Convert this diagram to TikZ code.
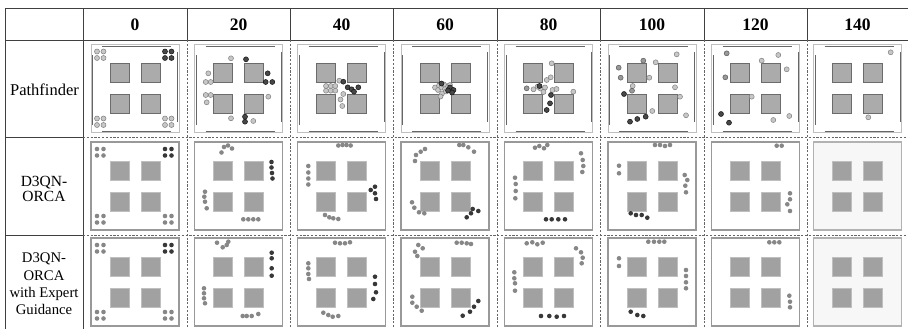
\documentclass[tikz,border=0pt]{standalone}
\usepackage{fontspec}
\setmainfont{Liberation Serif}
\tikzset{
 grid/.style={draw=black!75, line width=0.7pt},
 dgrid/.style={draw=black!60, line width=0.6pt, dash pattern=on 2.2pt off 1.6pt},
 pfouter/.style={draw=black!25, line width=0.6pt, fill=white},
 pfwall/.style={draw=black!60, line width=0.9pt},
 pfobs/.style={fill=black!33, draw=black!58, line width=0.5pt},
 dqouter/.style={draw=black!40, line width=1.1pt},
 dqobs/.style={fill=black!37, draw=black!25, line width=0.4pt},
 pl/.style={fill=black!22, draw=black!50, line width=0.5pt},
 pm/.style={fill=black!40, draw=black!65, line width=0.5pt},
 pd/.style={fill=black!72, draw=black!92, line width=0.5pt},
 dg/.style={fill=black!47},
 dk/.style={fill=black!78},
 hd/.style={font=\bfseries\fontsize{17.5}{20}\selectfont, inner sep=0pt},
 lab/.style={align=center, inner sep=0pt},
}
\newcommand\pfpanel{%
 \path[pfouter] (-44,-44) rectangle (44,44);
 \draw[pfwall] (-33,-42.5) -- (36,-42.5);
 \draw[pfwall] (-33,42.5) -- (36,42.5);
 \draw[pfwall] (-42.5,-33) -- (-42.5,36);
 \draw[pfwall] (42.5,-36) -- (42.5,33);
 \foreach \sx in {-15.5,15.5}{\foreach \sy in {-15.5,15.5}{\path[pfobs] (\sx-9.5,\sy-9.5) rectangle (\sx+9.5,\sy+9.5);}}%
}
\newcommand\dqpanel[2]{%
 \path[dqouter,fill=#1,draw=#2] (-44,-44) rectangle (44,44);
 \foreach \sx in {-15.5,15.5}{\foreach \sy in {-15.5,15.5}{\path[dqobs] (\sx-9.5,\sy-9.5) rectangle (\sx+9.5,\sy+9.5);}}%
}
\newcommand\pag[2]{\foreach \q in {#2}{\path[#1] \q circle[radius=2.5pt];}}
\newcommand\dqag[2]{\foreach \q in {#2}{\path[#1] \q circle[radius=2.3pt];}}
\newcommand\startgrid[3]{%
 #1{#2}{(-38,-37),(-31.5,-37),(-38,-30.5),(-31.5,-30.5),(-38,30),(-31.5,30),(-38,36.5),(-31.5,36.5),(30,30),(36.5,30),(30,36.5),(36.5,36.5)}%
 #1{#3}{(30,-37),(36.5,-37),(30,-30.5),(36.5,-30.5)}%
}
\begin{document}
\begin{tikzpicture}[x=1pt,y=-1pt]
\useasboundingbox (0,0) rectangle (908,329);
\fill[white] (0,0) rectangle (908,329);
% ---------------- table lines
\draw[grid] (5,8) -- (908,8);
\draw[grid] (5,40) -- (908,40);
\draw[grid] (5,8) -- (5,329);
\draw[grid] (83,8) -- (83,329);
\draw[grid] (5,137) -- (83,137);
\draw[grid] (5,235) -- (83,235);
\foreach \x in {187,290,393,497,600,704,807}{\draw[grid] (\x,8) -- (\x,40); \draw[dgrid] (\x,40) -- (\x,329);}
\draw[dgrid] (83,137) -- (908,137);
\draw[dgrid] (83,235) -- (908,235);
% ---------------- header
\node[hd] (h0) at (135,25) {0};
\node[hd] (h1) at (238.5,25) {20};
\node[hd] (h2) at (341.5,25) {40};
\node[hd] (h3) at (445,25) {60};
\node[hd] (h4) at (548.5,25) {80};
\node[hd] (h5) at (652,25) {100};
\node[hd] (h6) at (755.5,25) {120};
\node[hd] (h7) at (857.5,25) {140};
% ---------------- row labels
\node[lab, font=\fontsize{16.5}{18}\selectfont] (lp) at (44.5,89.5) {Pathfinder};
\node[lab, font=\fontsize{15.5}{15.8}\selectfont] (ld) at (44,189) {D3QN-\\ORCA};
\node[lab, font=\fontsize{14.7}{17.3}\selectfont] (le) at (44,284) {D3QN-\\ORCA\\with Expert\\Guidance};
% ================= Pathfinder row
\begin{scope}[shift={(135,88.5)}]\pfpanel
 \startgrid{\pag}{pl}{pd}
\end{scope}
\begin{scope}[shift={(238.5,88.5)}]\pfpanel
 \pag{pl}{(-7.5,-30.2),(-30.2,-15.2),(-32.8,-6.5),(-27.8,-6.5),(-32.8,6.5),(-27.8,6.5),(-31.8,13.8),(29.8,8.2),(-7.5,29.8),(14.8,32.5)}
 \pag{pd}{(7.5,-29.2),(29.2,-15.2),(27.2,-6.5),(33.8,-6.5),(6.5,28.2),(6.5,33.2)}
\end{scope}
\begin{scope}[shift={(341.5,88.5)}]\pfpanel
 \pag{pl}{(-15.5,-2.5),(-10.8,-2.5),(-6.2,-2.5),(-15.5,2.2),(-10.8,2.2),(-6.2,2.2),(-2.2,-7.8),(1.8,5.5),(-1,11),(0.8,17.5)}
 \pag{pd}{(1.8,-6.8),(6.2,-1.2),(10.2,0.8),(16.8,-1.2),(12.5,3.2)}
\end{scope}
\begin{scope}[shift={(445,88.5)}]\pfpanel
 \pag{pl}{(-10,-1),(-6,-3),(-7,1.5),(-3.5,-1),(0,0.5),(-3,5),(-4.5,8),(3,-2.5),(1,3),(5,-3.5),(-1,-4)}
 \pag{pd}{(-3.5,-5),(5,-1),(8.5,1.5),(7,4),(3,2)}
\end{scope}
\begin{scope}[shift={(548.5,88.5)}]\pfpanel
 \pag{pl}{(3.2,-25.2),(2.2,-11.2),(-1.8,-8.5),(-15,0.8),(-11,-1.8),(-8,0),(-3.5,-1),(-5,3.5),(4,1.5),(8,0.5),(24.8,3.2)}
 \pag{pm}{(-21.8,-0.2)}
 \pag{pd}{(2.5,6.5),(1.5,14.8),(-1.8,21.5),(-9,-2.5)}
\end{scope}
\begin{scope}[shift={(652,88.5)}]\pfpanel
 \pag{pl}{(24.7,-34.2),(3.7,-26.2),(-2.7,-10.8),(-19.3,-2.5),(23,-1.2),(28,8.2),(0.3,22.5),(34,26.8)}
 \pag{pm}{(-8.7,-27.8),(-33.3,-20.8),(-31.3,-10.8),(-20,2.2)}
 \pag{pd}{(-28,5.5),(-22,33.2),(-14.7,30.5),(-6.3,28.2)}
\end{scope}
\begin{scope}[shift={(755.5,88.5)}]\pfpanel
 \pag{pm}{(-28.8,-35.2),(-30.2,-11.2)}
 \pag{pl}{(22.8,-33.5),(6.2,-27.8),(31.2,-19.2),(-3.8,8.2),(17.8,31.5),(33.8,27.5)}
 \pag{pd}{(-34.5,25.5),(-26.5,34.2)}
\end{scope}
\begin{scope}[shift={(857.5,88.5)}]\pfpanel
 \pag{pl}{(33.2,-36.2),(10.8,28.8)}
\end{scope}
% ================= D3QN-ORCA row
\begin{scope}[shift={(135,186)}]\dqpanel{white}{black!40}
 \startgrid{\dqag}{dg}{dk}
\end{scope}
\begin{scope}[shift={(238.5,186)}]\dqpanel{white}{black!40}
 \dqag{dg}{(-17,-33.5),(-14.5,-39),(-10.5,-40.5),(-6.5,-37.5),(-33.5,5.7),(-34.2,10.7),(-33.5,15.7),(-31.8,22.3),(4.8,33.3),(9.8,33.3),(14.8,33.3),(19.8,33.3)}
 \dqag{dk}{(33,-24),(33,-18.5),(33.5,-13),(34,-7.5)}
\end{scope}
\begin{scope}[shift={(341.5,186)}]\dqpanel{white}{black!40}
 \dqag{dg}{(-3.2,-40.5),(1,-41),(5,-41),(9.2,-40.5),(-33.2,-20),(-33.2,-13.5),(-33.2,-7.5),(-33.2,-1.5),(-16.5,29),(-12.2,31.3),(-8.2,32.3),(-3.2,33)}
 \dqag{dk}{(29.2,4),(33.5,0.7),(33.5,7.3),(34.5,13)}
\end{scope}
\begin{scope}[shift={(445,186)}]\dqpanel{white}{black!40}
 \dqag{dg}{(-30,-25),(-29,-31),(-24.3,-34.3),(-20,-37),(14.3,-41),(18.3,-41),(23.3,-38.7),(29,-34.3),(-33,16.3),(-30.7,21.7),(-26,26.3),(-20.7,27.3)}
 \dqag{dk}{(21.7,31.3),(26,27.3),(27.7,23),(33.3,25)}
\end{scope}
\begin{scope}[shift={(548.5,186)}]\dqpanel{white}{black!40}
 \dqag{dg}{(-13.5,-38.3),(-9.2,-40),(-4.5,-37.7),(-1.2,-41),(32.5,-32.7),(34.2,-26),(34.8,-20),(33.8,-14),(-33.5,-8.3),(-32.8,-2),(-32.8,5),(-33.2,12.3)}
 \dqag{dk}{(-2.5,33.3),(3.2,33.3),(9.8,33.3),(16.5,33.3)}
\end{scope}
\begin{scope}[shift={(652,186)}]\dqpanel{white}{black!40}
 \dqag{dg}{(3,-41),(8,-41),(13,-40),(18,-41),(-33,-20.3),(-33,-12.7),(32.7,-11),(35.3,-6),(33.3,-0.3),(34,6.3)}
 \dqag{dk}{(-21.3,27.3),(-16,29),(-10.3,29),(-4.7,31.7)}
\end{scope}
\begin{scope}[shift={(755.5,186)}]\dqpanel{white}{black!40}
 \dqag{dg}{(21.2,-40.3),(26.2,-40.3),(34.5,7.3),(34.5,13.3),(31.8,18.3),(34.5,25)}
\end{scope}
\begin{scope}[shift={(857.5,186)}]\dqpanel{black!3}{black!30}
\end{scope}
% ================= D3QN-ORCA with Expert Guidance row
\begin{scope}[shift={(135,282)}]\dqpanel{white}{black!40}
 \startgrid{\dqag}{dg}{dk}
\end{scope}
\begin{scope}[shift={(238.5,282)}]\dqpanel{white}{black!40}
 \dqag{dg}{(-21.5,-39.3),(-15.8,-34.7),(-11.8,-37),(-10.2,-40.3),(-34.5,6.3),(-34.5,11.3),(-34.5,16.3),(-33.5,21.3),(4.2,34),(8.2,34),(13.2,34),(19.8,32)}
 \dqag{dk}{(33.2,-29.3),(33.2,-23.7),(33.2,-13.7),(33.2,-6.3)}
\end{scope}
\begin{scope}[shift={(341.5,282)}]\dqpanel{white}{black!40}
 \dqag{dg}{(-6.5,-39.3),(-1.5,-38.7),(3.5,-38.7),(8.5,-39.7),(-33.2,-18.7),(-33.2,-13.7),(-33.2,-8),(-32.5,-3),(-18.2,30.7),(-13.2,33),(-8.8,34.7),(-3.2,34)}
 \dqag{dk}{(33.5,-5.3),(33.5,2),(34.5,10.3),(31.8,17)}
\end{scope}
\begin{scope}[shift={(445,282)}]\dqpanel{white}{black!40}
 \dqag{dg}{(-30,-30.3),(-27.7,-26),(-26.7,-37),(-22.3,-33.7),(11.7,-39.3),(16.7,-39.3),(21.7,-38.7),(26,-38),(-32.7,14.7),(-32.7,20.7),(-28.3,24.7),(-23.3,28.7)}
 \dqag{dk}{(17.7,33.7),(25,29.7),(29,24.7),(33.3,19)}
\end{scope}
\begin{scope}[shift={(548.5,282)}]\dqpanel{white}{black!40}
 \dqag{dg}{(-21.8,-38.7),(-16.2,-39.7),(-11.2,-37.7),(-5.8,-39.3),(27.5,-33.7),(32.5,-29.7),(34.2,-24.3),(33.2,-18.7),(-34.2,-9.7),(-34.2,-3.7),(-33.5,1.3),(-33.5,8.7)}
 \dqag{dk}{(-7.5,34),(0.8,34),(8.2,34.7),(15.5,34)}
\end{scope}
\begin{scope}[shift={(652,282)}]\dqpanel{white}{black!40}
 \dqag{dg}{(-3.7,-40.3),(2,-40.3),(7.3,-40.3),(12.3,-40.3),(-33,-23.7),(-33,-16),(34,-12),(34,-6),(34,0.3),(34,6.3)}
 \dqag{dk}{(-21.3,29.7),(-14.7,33),(-8.7,34)}
\end{scope}
\begin{scope}[shift={(755.5,282)}]\dqpanel{white}{black!40}
 \dqag{dg}{(13.8,-39.7),(18.8,-39.7),(23.8,-39.7),(33.8,13.7),(34.5,19.7),(34.5,25.3)}
\end{scope}
\begin{scope}[shift={(857.5,282)}]\dqpanel{black!3}{black!30}
\end{scope}
\end{tikzpicture}
\end{document}
